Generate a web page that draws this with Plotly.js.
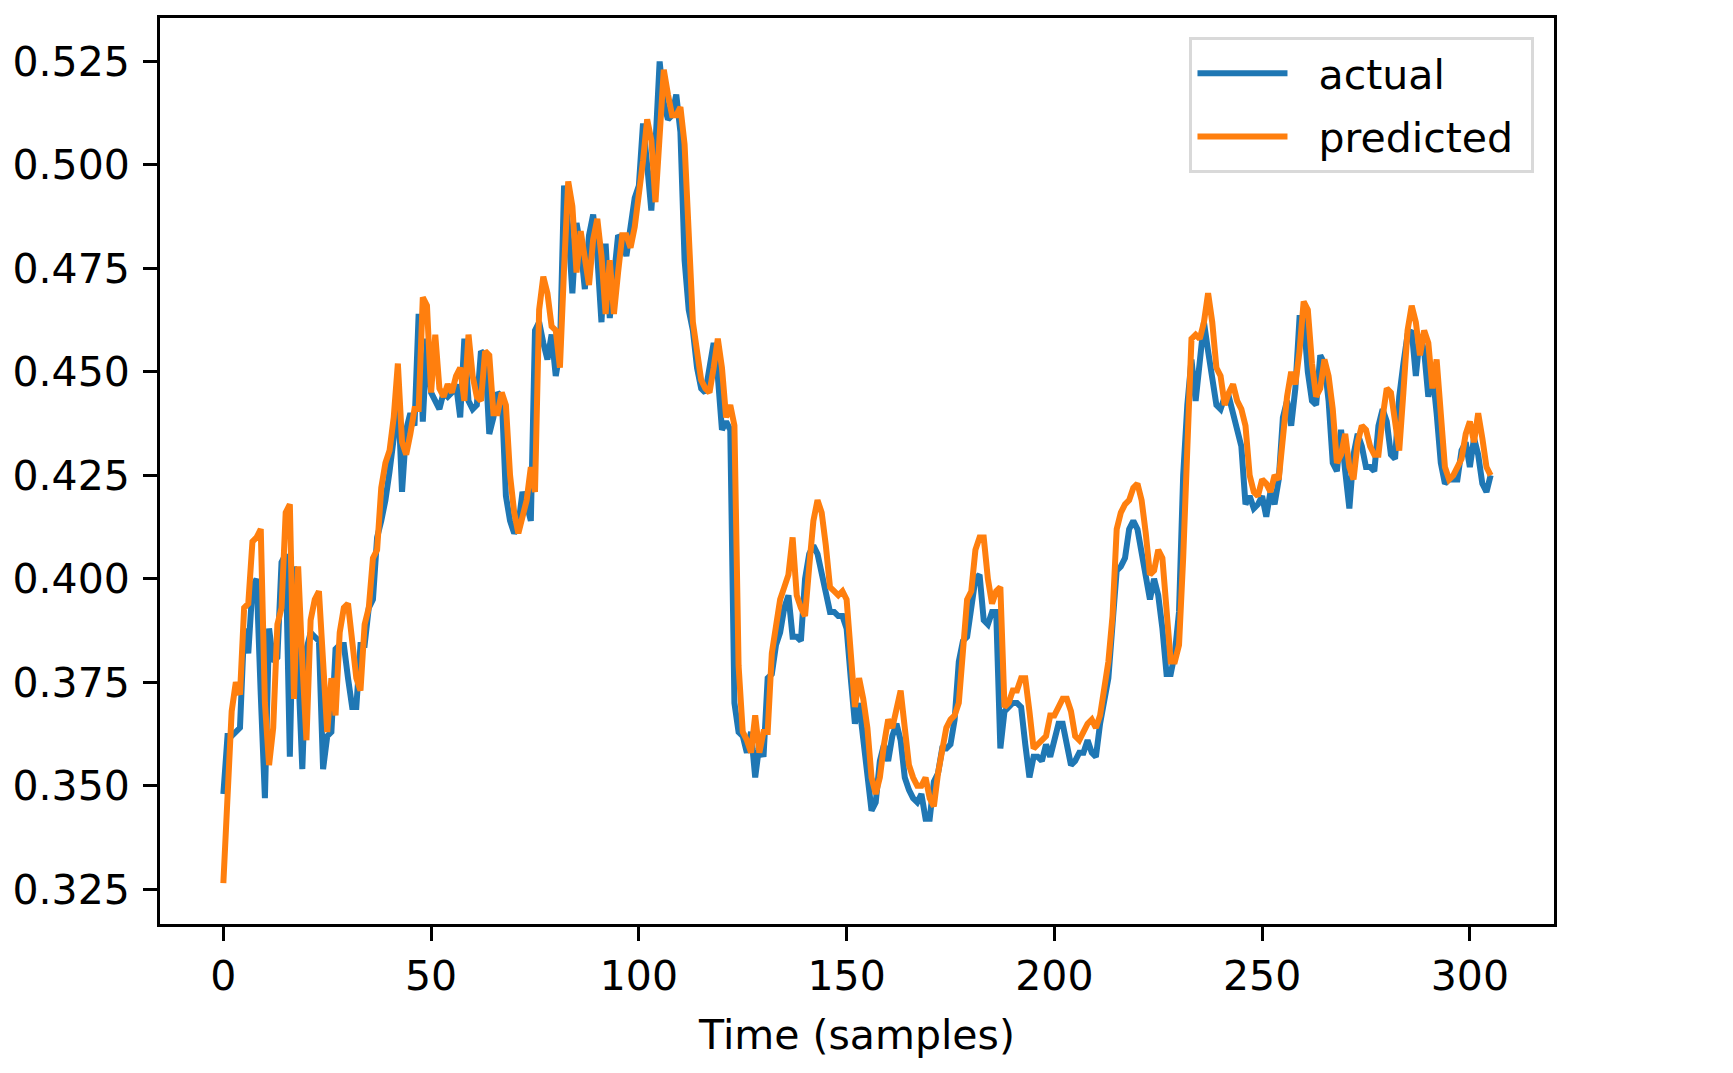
<!DOCTYPE html>
<html>
<head>
<meta charset="utf-8">
<script src="https://cdn.plot.ly/plotly-3.0.1.min.js"></script>
<style>
	html, body { margin: 0; padding: 0; background: #ffffff; }
	#chart { width: 1733px; height: 1073px; }
</style>
</head>
<body>
<div id="chart"></div>
<script>
// values, one per sample
const actual = [
	0.348, 0.362, 0.362, 0.363, 0.364, 0.388, 0.382, 0.398, 0.400, 0.372,
	0.347, 0.388, 0.380, 0.381, 0.404, 0.406, 0.357, 0.403, 0.380, 0.354,
	0.383, 0.387, 0.386, 0.385, 0.354, 0.362, 0.363, 0.383, 0.384, 0.384,
	0.376, 0.369, 0.369, 0.384, 0.384, 0.393, 0.395, 0.410, 0.414, 0.419,
	0.426, 0.434, 0.446, 0.421, 0.436, 0.440, 0.437, 0.464, 0.438, 0.458,
	0.445, 0.443, 0.441, 0.445, 0.444, 0.445, 0.447, 0.439, 0.458, 0.443,
	0.441, 0.442, 0.455, 0.454, 0.435, 0.439, 0.445, 0.444, 0.420, 0.414,
	0.411, 0.413, 0.421, 0.418, 0.414, 0.460, 0.462, 0.457, 0.453, 0.459,
	0.449, 0.455, 0.495, 0.485, 0.469, 0.486, 0.480, 0.470, 0.483, 0.488,
	0.478, 0.462, 0.481, 0.463, 0.475, 0.483, 0.482, 0.478, 0.485, 0.492,
	0.495, 0.510, 0.500, 0.489, 0.505, 0.525, 0.515, 0.511, 0.512, 0.517,
	0.508, 0.477, 0.465, 0.460, 0.451, 0.446, 0.445, 0.451, 0.457, 0.449,
	0.436, 0.438, 0.436, 0.370, 0.363, 0.362, 0.358, 0.363, 0.352, 0.360,
	0.357, 0.376, 0.377, 0.384, 0.387, 0.393, 0.396, 0.386, 0.386, 0.385,
	0.400, 0.406, 0.408, 0.406, 0.401, 0.397, 0.392, 0.392, 0.391, 0.391,
	0.388, 0.376, 0.365, 0.370, 0.362, 0.354, 0.344, 0.346, 0.356, 0.360,
	0.356, 0.362, 0.365, 0.361, 0.352, 0.349, 0.347, 0.346, 0.348, 0.342,
	0.342, 0.351, 0.353, 0.359, 0.359, 0.360, 0.366, 0.380, 0.385, 0.386,
	0.392, 0.400, 0.401, 0.390, 0.389, 0.392, 0.392, 0.359, 0.368, 0.369,
	0.370, 0.370, 0.369, 0.360, 0.352, 0.357, 0.357, 0.356, 0.360, 0.357,
	0.361, 0.365, 0.365, 0.359, 0.355, 0.356, 0.358, 0.358, 0.361, 0.358,
	0.357, 0.365, 0.371, 0.376, 0.389, 0.402, 0.403, 0.405, 0.412, 0.414,
	0.412, 0.406, 0.399, 0.395, 0.400, 0.396, 0.388, 0.377, 0.377, 0.382,
	0.392, 0.425, 0.442, 0.453, 0.443, 0.454, 0.462, 0.455, 0.449, 0.442,
	0.441, 0.444, 0.444, 0.440, 0.437, 0.432, 0.418, 0.420, 0.417, 0.418,
	0.420, 0.415, 0.421, 0.418, 0.424, 0.439, 0.443, 0.437, 0.446, 0.463,
	0.463, 0.450, 0.443, 0.442, 0.454, 0.452, 0.443, 0.428, 0.426, 0.436,
	0.426, 0.417, 0.430, 0.435, 0.432, 0.427, 0.427, 0.426, 0.437, 0.441,
	0.438, 0.430, 0.429, 0.444, 0.452, 0.459, 0.460, 0.449, 0.459, 0.455,
	0.444, 0.450, 0.440, 0.428, 0.423, 0.424, 0.424, 0.424, 0.431, 0.433,
	0.427, 0.434, 0.430, 0.423, 0.421, 0.425,
];

const predicted = [
	0.3265, 0.345, 0.368, 0.375, 0.372, 0.393, 0.394, 0.409, 0.410, 0.412,
	0.370, 0.355, 0.364, 0.389, 0.393, 0.416, 0.418, 0.371, 0.403, 0.380,
	0.361, 0.390, 0.395, 0.397, 0.380, 0.363, 0.376, 0.367, 0.387, 0.393,
	0.394, 0.385, 0.376, 0.373, 0.389, 0.393, 0.405, 0.407, 0.422, 0.428,
	0.431, 0.439, 0.452, 0.433, 0.430, 0.435, 0.441, 0.441, 0.468, 0.466,
	0.445, 0.459, 0.446, 0.444, 0.447, 0.445, 0.449, 0.451, 0.443, 0.459,
	0.449, 0.444, 0.443, 0.455, 0.454, 0.440, 0.440, 0.445, 0.442, 0.425,
	0.416, 0.411, 0.415, 0.419, 0.427, 0.421, 0.465, 0.473, 0.469, 0.461,
	0.460, 0.451, 0.475, 0.496, 0.490, 0.474, 0.484, 0.478, 0.471, 0.482,
	0.487, 0.478, 0.464, 0.477, 0.464, 0.474, 0.483, 0.483, 0.480, 0.485,
	0.492, 0.501, 0.511, 0.506, 0.491, 0.505, 0.523, 0.517, 0.512, 0.512,
	0.514, 0.505, 0.484, 0.462, 0.455, 0.448, 0.446, 0.445, 0.451, 0.458,
	0.451, 0.439, 0.442, 0.437, 0.379, 0.363, 0.361, 0.358, 0.367, 0.358,
	0.363, 0.363, 0.382, 0.388, 0.395, 0.398, 0.401, 0.410, 0.396, 0.393,
	0.391, 0.403, 0.414, 0.419, 0.416, 0.408, 0.398, 0.397, 0.396, 0.397,
	0.395, 0.382, 0.369, 0.376, 0.371, 0.364, 0.352, 0.348, 0.352, 0.360,
	0.366, 0.364, 0.368, 0.373, 0.364, 0.355, 0.352, 0.350, 0.350, 0.352,
	0.347, 0.345, 0.353, 0.359, 0.364, 0.366, 0.367, 0.370, 0.382, 0.395,
	0.397, 0.407, 0.410, 0.410, 0.400, 0.394, 0.397, 0.398, 0.369, 0.370,
	0.373, 0.373, 0.376, 0.376, 0.368, 0.359, 0.360, 0.361, 0.362, 0.367,
	0.367, 0.369, 0.371, 0.371, 0.368, 0.362, 0.361, 0.363, 0.365, 0.366,
	0.364, 0.367, 0.373, 0.380, 0.391, 0.412, 0.416, 0.418, 0.419, 0.422,
	0.423, 0.419, 0.411, 0.401, 0.402, 0.407, 0.405, 0.391, 0.380, 0.380,
	0.384, 0.405, 0.432, 0.458, 0.459, 0.458, 0.462, 0.469, 0.462, 0.451,
	0.449, 0.442, 0.445, 0.447, 0.443, 0.441, 0.437, 0.425, 0.421, 0.420,
	0.424, 0.423, 0.421, 0.425, 0.424, 0.434, 0.444, 0.450, 0.447, 0.455,
	0.467, 0.465, 0.452, 0.444, 0.446, 0.453, 0.449, 0.441, 0.428, 0.430,
	0.435, 0.427, 0.424, 0.433, 0.437, 0.436, 0.432, 0.430, 0.430, 0.439,
	0.446, 0.445, 0.438, 0.431, 0.445, 0.460, 0.466, 0.462, 0.454, 0.460,
	0.457, 0.446, 0.453, 0.438, 0.427, 0.424, 0.425, 0.427, 0.429, 0.435,
	0.438, 0.433, 0.440, 0.434, 0.427, 0.425,
];

const samples = actual.map((_, i) => i);
const xTicks = [0, 50, 100, 150, 200, 250, 300];
const yTicks = [0.325, 0.35, 0.375, 0.4, 0.425, 0.45, 0.475, 0.5, 0.525];
const yTickText = ['0.325', '0.350', '0.375', '0.400', '0.425', '0.450', '0.475', '0.500', '0.525'];

const font = { family: 'DejaVu Sans', size: 41, color: '#000000' };

const traceActual = {
	x: samples,
	y: actual,
	type: 'scatter',
	mode: 'lines',
	name: '\u00a0\u00a0actual\u00a0',
	legendgroup: 'a',
	line: { color: '#1f77b4', width: 6 },
};

const tracePredicted = {
	x: samples,
	y: predicted,
	type: 'scatter',
	mode: 'lines',
	name: '\u00a0\u00a0predicted\u00a0',
	legendgroup: 'p',
	line: { color: '#ff7f0e', width: 6 },
};

const axisCommon = {
	showgrid: false,
	zeroline: false,
	showline: true,
	mirror: true,
	linecolor: '#000000',
	linewidth: 3,
	ticks: 'outside',
	ticklen: 14,
	tickwidth: 3,
	tickcolor: '#000000',
	tickfont: font,
};

const layout = {
	width: 1733,
	height: 1073,
	margin: { l: 160, r: 179, t: 18, b: 149 },
	paper_bgcolor: '#ffffff',
	plot_bgcolor: '#ffffff',
	font,
	showlegend: true,
	legend: {
		x: 0.986,
		y: 0.979,
		xanchor: 'right',
		yanchor: 'top',
		bgcolor: 'rgba(255,255,255,0.8)',
		bordercolor: '#d9d9d9',
		borderwidth: 3,
		font,
		itemwidth: 90,
		tracegroupgap: 7,
	},
	xaxis: {
		...axisCommon,
		range: [-15.25, 320.25],
		tickmode: 'array',
		tickvals: xTicks,
		title: { text: 'Time (samples)', font, standoff: 22 },
	},
	yaxis: {
		...axisCommon,
		range: [0.3166, 0.5355],
		tickmode: 'array',
		tickvals: yTicks,
		ticktext: yTickText,
		ticklabelstandoff: 5,
	},
};

Plotly.newPlot('chart', [traceActual, tracePredicted], layout, { displayModeBar: false, staticPlot: true });
</script>
</body>
</html>
